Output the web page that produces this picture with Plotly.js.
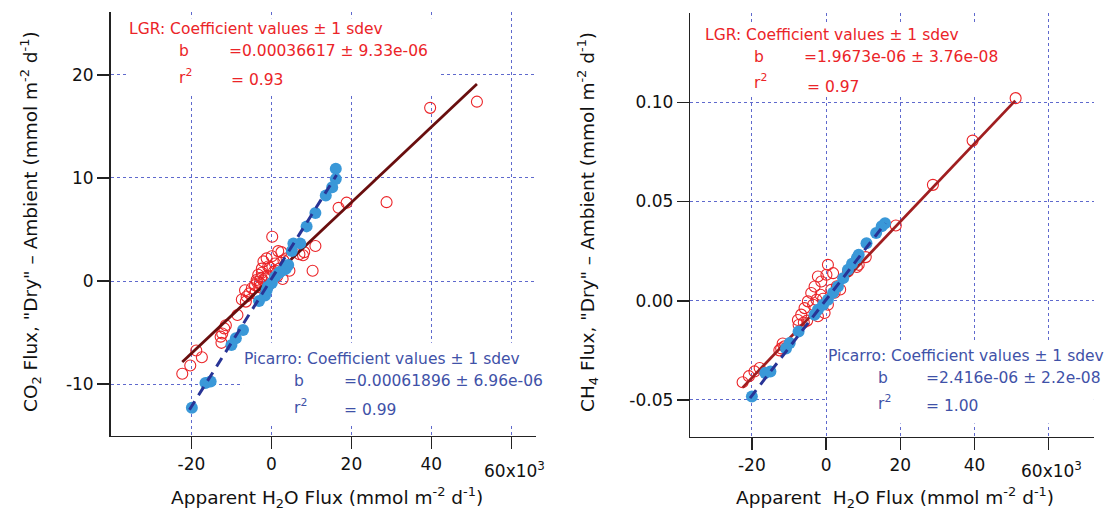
<!DOCTYPE html>
<html>
<head>
<meta charset="utf-8">
<script src="https://cdn.plot.ly/plotly-3.0.1.min.js"></script>
<style>html,body{margin:0;padding:0;background:#fff;}#chart{width:1109px;height:510px;}</style>
</head>
<body>
<div id="chart"></div>
<script>
// ---------- data (H2O flux in thousands of mmol m-2 d-1) ----------
// Left panel: CO2
const co2LgrX = [51.4, 39.7, 28.8, 18.8, 16.8, 11.0, 10.3, 8.2, 7.9, 7.0, 0.2, 1.7, 2.5, -1.2, -2.0, 0.1, -0.8, -2.4, -3.3, -3.7, -4.1, -4.9, -6.6, -6.2, -2.4, -1.6, -0.4, 0.9, 3.0, 3.8, -2.9, -4.1, -7.4, -6.4, -8.5, -11.4, -11.8, -12.3, -12.7, -12.5, -18.8, -17.4, -20.3, -22.3, -1.0, -2.0, -3.0, 1.5, 2.0, -0.5, -1.5, 4.5, -5.5, 2.8, -2.6, -3.6, 0.6, 1.1];
const co2LgrY = [17.4, 16.8, 7.65, 7.6, 7.1, 3.4, 1.0, 2.8, 2.5, 2.6, 4.3, 2.9, 2.8, 2.2, 1.9, 2.4, 1.4, 1.2, 0.6, 0.1, -0.4, -0.7, -0.9, -1.5, 0.8, 0.25, 1.3, 1.7, 2.0, 2.2, -0.2, -1.2, -1.8, -2.0, -3.3, -4.3, -4.6, -5.1, -5.4, -6.0, -6.75, -7.4, -8.2, -9.0, 0.5, 0.0, -0.6, 0.5, 1.2, -0.3, -0.8, 1.0, -1.2, 0.2, 0.3, -0.1, 0.9, 1.0];
const co2PicX = [16.1, 16.1, 15.2, 13.6, 11.0, 8.8, 7.2, 5.5, 5.1, 4.2, 3.6, 3.0, 2.2, 1.8, 0.9, 0.1, -0.9, -1.2, -1.6, -3.1, -7.1, -8.9, -10.0, -15.2, -16.5, -19.9];
const co2PicY = [10.9, 9.9, 9.1, 8.3, 6.6, 5.3, 3.65, 3.65, 2.9, 1.55, 1.2, 1.07, 0.9, 0.75, 0.4, -0.2, -0.55, -0.9, -1.4, -1.94, -4.75, -5.55, -6.2, -9.75, -9.9, -12.3];
// fit lines: [intercept, slope per 1e3], x extent
const co2LgrFit = [0.3, 0.36617];
const co2LgrFitX = [-22.3, 51.4];
const co2PicFit = [0.2, 0.61896];
const co2PicFitX = [-20.5, 16.3];

// Right panel: CH4
const ch4LgrX = [51.1, 39.5, 28.8, 18.8, 10.7, 8.8, 8.3, 5.9, 0.5, 0.1, -2.2, 1.9, -3.1, -4.0, -4.9, -5.8, -6.7, -7.6, -1.3, 1.4, 2.3, -2.6, 0.5, -0.4, -2.2, -6.0, -5.1, -7.4, -11.2, -12.1, -12.6, -11.7, -17.9, -19.3, -20.8, -22.5, 2.9, 3.8, -1.5, -3.5, -0.8];
const ch4LgrY = [0.1021, 0.0807, 0.0584, 0.0379, 0.022, 0.0181, 0.017, 0.0148, 0.0181, 0.0131, 0.0122, 0.0139, 0.0072, 0.0039, -0.0003, -0.0037, -0.007, -0.0097, 0.0097, 0.0055, 0.004, 0.0005, -0.002, -0.0062, -0.0078, -0.011, -0.010, -0.0122, -0.023, -0.024, -0.025, -0.0215, -0.0339, -0.0356, -0.038, -0.0411, 0.0073, 0.0057, 0.003, -0.002, 0.001];
const ch4PicX = [15.9, 15.0, 13.5, 10.9, 8.8, 8.3, 7.0, 5.9, 4.6, 3.2, 1.9, 0.5, -0.8, -2.2, -3.1, -7.4, -9.8, -10.8, -15.0, -16.4, -20.0];
const ch4PicY = [0.0391, 0.0375, 0.0341, 0.029, 0.0232, 0.0215, 0.0186, 0.0156, 0.0114, 0.0072, 0.004, 0.0005, -0.002, -0.0045, -0.007, -0.0155, -0.0213, -0.024, -0.0356, -0.0364, -0.0482];
const ch4LgrFit = [0.0005, 1.9673];   // slope x1e-6 per mmol, scaled per 1e3 below
const ch4LgrFitX = [-22.5, 51.0];
const ch4PicFit = [0.0005, 2.416];
const ch4PicFitX = [-20.5, 16.0];

// ticks
const xTickVals = [-20, 0, 20, 40, 60];
const xTickText = ['-20', '0', '20', '40', ''];
const co2TickVals = [-10, 0, 10, 20];
const co2TickText = ['-10', '0', '10', '20'];
const ch4TickVals = [-0.05, 0, 0.05, 0.10];
const ch4TickText = ['-0.05', '0.00', '0.05', '0.10'];

// ---------- styles ----------
const W = 1109, H = 510;
const FONT = 'DejaVu Sans';
const RED = 'rgb(235,36,40)';
const BLUE_TXT = 'rgb(63,82,168)';
const BLUE_MK = 'rgb(58,152,216)';
const DASH = 'rgb(40,52,150)';
const GRID = 'rgb(95,105,205)';

function fitLine(fit, xs, scale) {
  return {x: xs, y: xs.map(v => fit[0] + fit[1] * scale * v)};
}
const l1 = fitLine(co2LgrFit, co2LgrFitX, 1);
const p1 = fitLine(co2PicFit, co2PicFitX, 1);
const l2 = fitLine(ch4LgrFit, ch4LgrFitX, 1e-3);
const p2 = fitLine(ch4PicFit, ch4PicFitX, 1e-3);

const redMk = {symbol: 'circle-open', size: 11, color: RED, line: {width: 1.1, color: RED}};
const bluMk = {symbol: 'circle', size: 12, color: BLUE_MK, line: {width: 0}};

const traces = [
  {x: co2LgrX, y: co2LgrY, mode: 'markers', marker: redMk, xaxis: 'x', yaxis: 'y', cliponaxis: false},
  {x: l1.x, y: l1.y, mode: 'lines', line: {color: 'rgb(105,14,14)', width: 2.8}, xaxis: 'x', yaxis: 'y'},
  {x: co2PicX, y: co2PicY, mode: 'markers', marker: bluMk, xaxis: 'x', yaxis: 'y'},
  {x: p1.x, y: p1.y, mode: 'lines', line: {color: DASH, width: 3, dash: '10px,7px'}, xaxis: 'x', yaxis: 'y'},
  {x: ch4LgrX, y: ch4LgrY, mode: 'markers', marker: redMk, xaxis: 'x2', yaxis: 'y2', cliponaxis: false},
  {x: l2.x, y: l2.y, mode: 'lines', line: {color: 'rgb(160,30,32)', width: 2.8}, xaxis: 'x2', yaxis: 'y2'},
  {x: ch4PicX, y: ch4PicY, mode: 'markers', marker: bluMk, xaxis: 'x2', yaxis: 'y2'},
  {x: p2.x, y: p2.y, mode: 'lines', line: {color: DASH, width: 3, dash: '10px,7px'}, xaxis: 'x2', yaxis: 'y2'}
];

function axisBase(extra) {
  return Object.assign({
    showline: true, linecolor: '#222', linewidth: 1.6,
    ticks: 'outside', ticklen: 12, tickwidth: 1.5, tickcolor: '#222',
    tickfont: {family: FONT, size: 17, color: '#111'},
    showgrid: true, gridcolor: GRID, gridwidth: 1, griddash: 'dot',
    zeroline: false, tickmode: 'array', fixedrange: true
  }, extra);
}

function ann(text, px, py, color, size, extra) {
  return Object.assign({
    xref: 'paper', yref: 'paper', x: px / W, y: 1 - py / H,
    xanchor: 'left', yanchor: 'middle', showarrow: false, text: text,
    font: {family: FONT, size: size, color: color}
  }, extra || {});
}

const AS = 15.5; // annotation font size
const TS = 18.5; // axis title size
const annotations = [
  // left LGR
  ann('LGR: Coefficient values ± 1 sdev', 127, 29, RED, AS),
  ann('b', 177, 51, RED, AS),
  ann('=0.00036617 ± 9.33e-06', 227, 51, RED, AS),
  ann('r<sup>2</sup>', 177, 76, RED, AS),
  ann('= 0.93', 229, 80, RED, AS),
  // left Picarro
  ann('Picarro: Coefficient values ± 1 sdev', 242, 359, BLUE_TXT, AS),
  ann('b', 292, 381, BLUE_TXT, AS),
  ann('=0.00061896 ± 6.96e-06', 342, 381, BLUE_TXT, AS),
  ann('r<sup>2</sup>', 292, 406, BLUE_TXT, AS),
  ann('= 0.99', 342, 410, BLUE_TXT, AS),
  // right LGR
  ann('LGR: Coefficient values ± 1 sdev', 703, 35, RED, AS),
  ann('b', 752, 57, RED, AS),
  ann('=1.9673e-06 ± 3.76e-08', 802, 57, RED, AS),
  ann('r<sup>2</sup>', 752, 82, RED, AS),
  ann('= 0.97', 805, 87, RED, AS),
  // right Picarro
  ann('Picarro: Coefficient values ± 1 sdev', 826, 356, BLUE_TXT, AS),
  ann('b', 876, 378, BLUE_TXT, AS),
  ann('=2.416e-06 ± 2.2e-08', 924, 378, BLUE_TXT, AS),
  ann('r<sup>2</sup>', 876, 402, BLUE_TXT, AS),
  ann('= 1.00', 924, 406, BLUE_TXT, AS),
  // 60x10^3 tick labels
  ann('60x10<sup>3</sup>', 482, 470, '#111', 17),
  ann('60x10<sup>3</sup>', 1019, 470, '#111', 17),
  // axis titles
  ann('Apparent H<sub>2</sub>O Flux (mmol m<sup>-2</sup> d<sup>-1</sup>)', 327, 497, '#111', TS, {xanchor: 'center'}),
  ann('Apparent\u00a0 H<sub>2</sub>O Flux (mmol m<sup>-2</sup> d<sup>-1</sup>)', 895, 497, '#111', TS, {xanchor: 'center'}),
  ann('CO<sub>2</sub> Flux, "Dry" – Ambient (mmol m<sup>-2</sup> d<sup>-1</sup>)', 30, 222, '#111', TS, {xanchor: 'center', textangle: -90}),
  ann('CH<sub>4</sub> Flux, "Dry" – Ambient (mmol m<sup>-2</sup> d<sup>-1</sup>)', 587, 222, '#111', TS, {xanchor: 'center', textangle: -90})
];

function box(xr, yr, x0, x1, y0, y1) {
  return {type: 'rect', xref: xr, yref: yr, x0: x0, x1: x1, y0: y0, y1: y1,
          fillcolor: '#fff', line: {width: 0}, layer: 'between'};
}
const shapes = [
  box('x', 'y', -36.1, 42.2, 18.2, 25.5),
  box('x', 'y', -7.1, 70, -13.8, -6.0),
  box('x2', 'y2', -33.5, 48.9, 0.1027, 0.1404),
  box('x2', 'y2', 0.4, 80, -0.0619, -0.0211)
];

const layout = {
  width: W, height: H,
  margin: {l: 0, r: 0, t: 0, b: 0},
  paper_bgcolor: '#fff', plot_bgcolor: 'rgba(0,0,0,0)',
  showlegend: false,
  xaxis: axisBase({domain: [110.7 / W, 535.7 / W], range: [-40.2, 66.1], tickvals: xTickVals, ticktext: xTickText, anchor: 'y'}),
  yaxis: axisBase({domain: [(H - 435.5) / H, (H - 12) / H], range: [-14.99, 26.1], tickvals: co2TickVals, ticktext: co2TickText, anchor: 'x'}),
  xaxis2: axisBase({domain: [690.3 / W, 1093.9 / W], range: [-36.6, 72.2], tickvals: xTickVals, ticktext: xTickText, anchor: 'y2'}),
  yaxis2: axisBase({domain: [(H - 436.7) / H, (H - 13) / H], range: [-0.0685, 0.145], tickvals: ch4TickVals, ticktext: ch4TickText, anchor: 'x2'}),
  annotations: annotations,
  shapes: shapes
};

Plotly.newPlot('chart', traces, layout, {staticPlot: true, displayModeBar: false});
</script>
</body>
</html>
